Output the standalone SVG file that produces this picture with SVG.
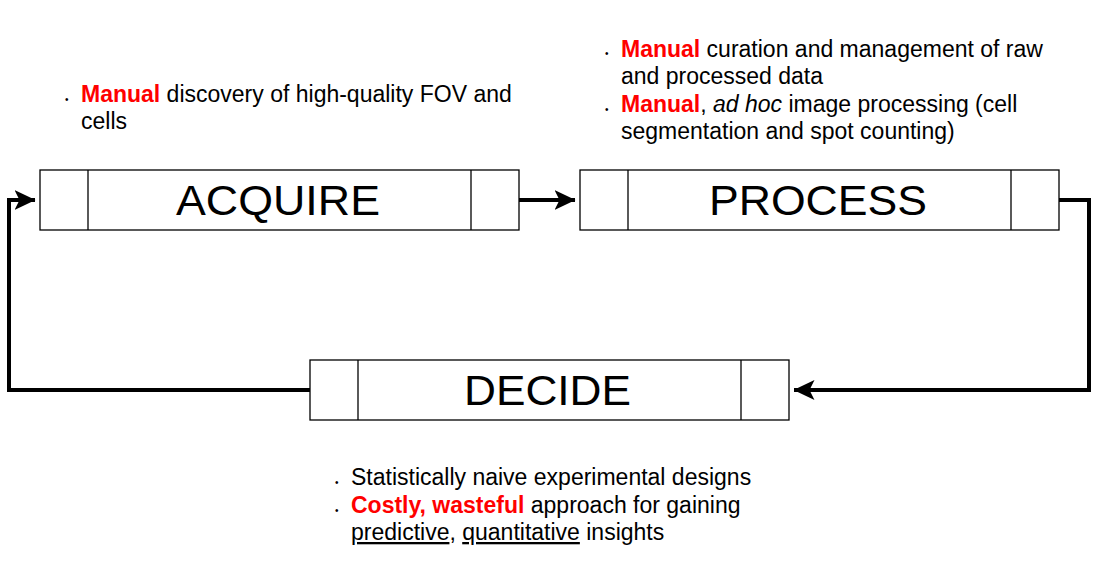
<svg xmlns="http://www.w3.org/2000/svg" width="1101" height="561" viewBox="0 0 1101 561">
<defs>
<style>
.box{fill:#fff;stroke:#000;stroke-width:1.3}
.lbl{font-family:"Liberation Sans",Arial,sans-serif;font-size:43px;fill:#000;text-anchor:middle}
.t{font-family:"Liberation Sans",Arial,sans-serif;font-size:23px;fill:#000}
.r{fill:#ff0000;font-weight:bold}
.b{font-family:"Liberation Sans",Arial,sans-serif;font-size:10px;fill:#000}
.c{fill:none;stroke:#000;stroke-width:4;stroke-linejoin:miter}
</style>
<marker id="ah" viewBox="0 0 21 22" refX="20.5" refY="11" markerWidth="21" markerHeight="22" markerUnits="userSpaceOnUse" orient="auto">
<path d="M0,1 L21,11 L0,21 L5,11 Z" fill="#000"/>
</marker>
</defs>
<rect width="1101" height="561" fill="#fff"/>
<g id="connectors">
<path class="c" d="M519,200 L575,200" marker-end="url(#ah)"/>
<path class="c" d="M1059,200 L1089,200 L1089,390 L794,390" marker-end="url(#ah)"/>
<path class="c" d="M310,390 L9,390 L9,200 L35,200" marker-end="url(#ah)"/>
</g>
<g id="acquire">
<rect class="box" x="40" y="170" width="479" height="60"/>
<line class="box" x1="88" y1="170" x2="88" y2="230"/>
<line class="box" x1="471" y1="170" x2="471" y2="230"/>
<text class="lbl" x="278" y="215" textLength="204" lengthAdjust="spacingAndGlyphs">ACQUIRE</text>
</g>
<g id="process">
<rect class="box" x="580" y="170" width="479" height="60"/>
<line class="box" x1="628" y1="170" x2="628" y2="230"/>
<line class="box" x1="1011" y1="170" x2="1011" y2="230"/>
<text class="lbl" x="818" y="215" textLength="218" lengthAdjust="spacingAndGlyphs">PROCESS</text>
</g>
<g id="decide">
<rect class="box" x="310" y="360" width="479" height="60"/>
<line class="box" x1="358" y1="360" x2="358" y2="420"/>
<line class="box" x1="741" y1="360" x2="741" y2="420"/>
<text class="lbl" x="547.5" y="405" textLength="167" lengthAdjust="spacingAndGlyphs">DECIDE</text>
</g>
<g id="acquire-notes">
<text class="b" x="65" y="103">•</text>
<text class="t" x="81" y="102"><tspan class="r">Manual</tspan> discovery of high-quality FOV and</text>
<text class="t" x="81" y="129">cells</text>
</g>
<g id="process-notes">
<text class="b" x="605" y="57">•</text>
<text class="t" x="621" y="57"><tspan class="r">Manual</tspan> curation and management of raw</text>
<text class="t" x="621" y="84">and processed data</text>
<text class="b" x="605" y="113">•</text>
<text class="t" x="621" y="112"><tspan class="r">Manual</tspan>, <tspan font-style="italic">ad hoc</tspan> image processing (cell</text>
<text class="t" x="621" y="139">segmentation and spot counting)</text>
</g>
<g id="decide-notes">
<text class="b" x="335" y="486">•</text>
<text class="t" x="351" y="485">Statistically naive experimental designs</text>
<text class="b" x="335" y="514">•</text>
<text class="t" x="351" y="513"><tspan class="r">Costly, wasteful</tspan> approach for gaining</text>
<text class="t" x="351" y="540"><tspan text-decoration="underline">predictive</tspan>, <tspan text-decoration="underline">quantitative</tspan> insights</text>
</g>
</svg>
